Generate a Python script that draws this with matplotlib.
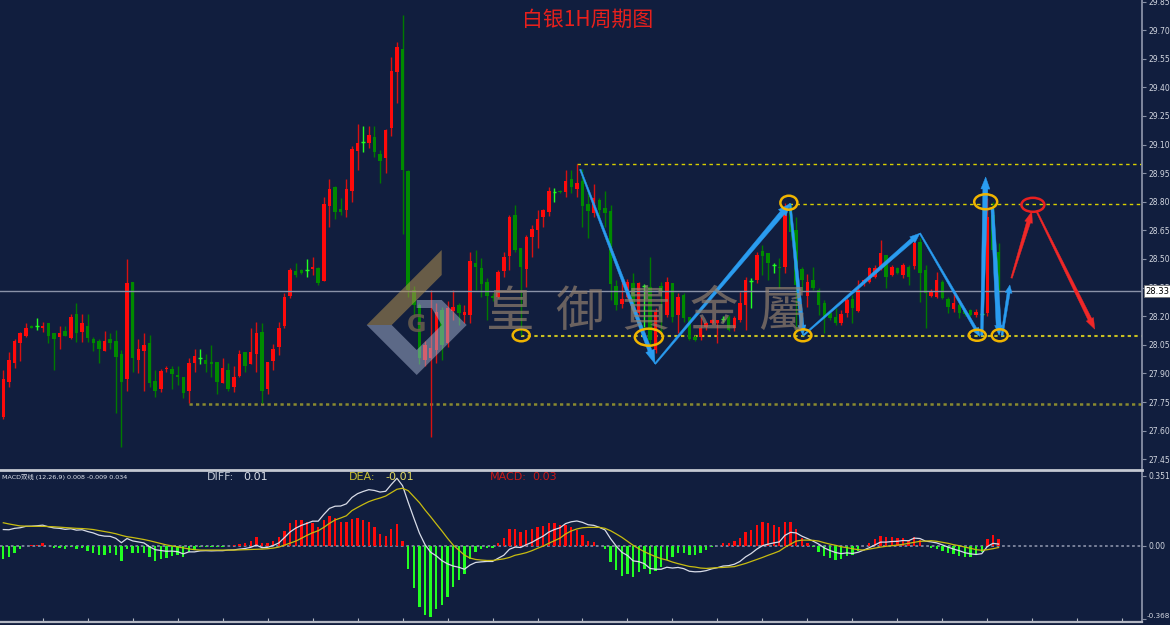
import numpy as np
import matplotlib
matplotlib.use("Agg")
import matplotlib.pyplot as plt
from matplotlib.patches import Polygon, Ellipse
from matplotlib.transforms import blended_transform_factory, ScaledTranslation

# ---------------- data ----------------
opens = [27.67, 27.857, 27.957, 28.058, 28.097, 28.149, 28.148, 28.14, 28.163, 28.11,
 28.09, 28.123, 28.088, 28.212, 28.119, 28.15, 28.081, 28.072, 28.02, 28.081,
 28.072, 28.002, 27.87, 28.378, 27.97, 28.02, 28.058, 27.862, 27.817, 27.922,
 27.922, 27.892, 27.88, 27.81, 27.957, 27.98, 27.97, 27.96, 27.958, 27.852,
 27.92, 27.83, 27.887, 28.011, 27.95, 28.002, 28.119, 27.817, 27.967, 28.04,
 28.15, 28.308, 28.439, 28.443, 28.441, 28.446, 28.452, 28.387, 28.78, 28.88,
 28.76, 28.757, 28.858, 29.067, 29.113, 29.107, 29.138, 29.051, 29.031, 29.189,
 29.479, 29.6, 28.962, 28.338, 28.259, 27.97, 27.98, 28.023, 28.233, 28.058,
 28.229, 28.259, 28.207, 28.207, 28.478, 28.451, 28.381, 28.308, 28.303, 28.439,
 28.516, 28.731, 28.556, 28.446, 28.617, 28.652, 28.719, 28.748, 28.85, 28.857,
 28.853, 28.918, 28.867, 28.911, 28.789, 28.74, 28.81, 28.769, 28.754, 28.36,
 28.264, 28.303, 28.373, 28.215, 28.36, 28.352, 28.023, 28.36, 28.207, 28.373,
 28.207, 28.312, 28.198, 28.093, 28.093, 28.145, 28.166, 28.166, 28.185, 28.198,
 28.137, 28.18, 28.259, 28.385, 28.39, 28.542, 28.53, 28.469, 28.46, 28.46,
 28.775, 28.652, 28.447, 28.308, 28.39, 28.338, 28.268, 28.215, 28.198, 28.166,
 28.215, 28.288, 28.229, 28.369, 28.381, 28.407, 28.46, 28.521, 28.416, 28.451,
 28.416, 28.46, 28.464, 28.591, 28.443, 28.306, 28.303, 28.378, 28.29, 28.236,
 28.259, 28.229, 28.233, 28.207, 28.212, 28.215, 28.731, 28.539]

highs = [27.92, 28.01, 28.081, 28.115, 28.163, 28.155, 28.19, 28.168, 28.165, 28.112,
 28.15, 28.15, 28.212, 28.271, 28.212, 28.212, 28.093, 28.08, 28.123, 28.11,
 28.128, 28.023, 28.5, 28.38, 28.08, 28.11, 28.102, 27.92, 27.924, 27.94,
 27.94, 27.94, 27.882, 27.98, 28.028, 28.028, 28.0, 28.05, 27.96, 27.98,
 27.953, 27.94, 28.023, 28.012, 28.14, 28.172, 28.163, 27.96, 28.054, 28.172,
 28.32, 28.452, 28.478, 28.45, 28.5, 28.513, 28.46, 28.827, 28.92, 28.882,
 28.818, 28.92, 29.093, 29.208, 29.195, 29.195, 29.195, 29.072, 29.18, 29.558,
 29.64, 29.78, 28.965, 28.36, 28.27, 28.07, 28.338, 28.268, 28.25, 28.28,
 28.338, 28.268, 28.259, 28.539, 28.547, 28.504, 28.399, 28.32, 28.443, 28.539,
 28.731, 28.784, 28.556, 28.626, 28.679, 28.757, 28.761, 28.88, 28.871, 28.86,
 28.967, 28.967, 28.997, 28.97, 28.862, 28.892, 28.818, 28.858, 28.783, 28.39,
 28.39, 28.394, 28.425, 28.381, 28.37, 28.512, 28.242, 28.381, 28.408, 28.373,
 28.32, 28.32, 28.198, 28.1, 28.198, 28.17, 28.185, 28.18, 28.2, 28.207,
 28.2, 28.329, 28.408, 28.402, 28.539, 28.574, 28.53, 28.478, 28.504, 28.792,
 28.784, 28.722, 28.46, 28.42, 28.46, 28.346, 28.285, 28.22, 28.242, 28.233,
 28.294, 28.31, 28.39, 28.395, 28.46, 28.47, 28.6, 28.521, 28.47, 28.46,
 28.478, 28.469, 28.6, 28.609, 28.469, 28.34, 28.43, 28.39, 28.303, 28.32,
 28.268, 28.24, 28.24, 28.24, 28.22, 28.82, 28.80, 28.582]

lows = [27.66, 27.83, 27.927, 27.967, 28.09, 28.138, 28.128, 28.119, 28.058, 27.92,
 28.027, 28.095, 28.079, 28.067, 28.067, 28.067, 28.02, 27.957, 28.018, 28.027,
 27.691, 27.516, 27.81, 27.91, 27.9, 27.81, 27.83, 27.778, 27.8, 27.91,
 27.817, 27.84, 27.77, 27.744, 27.91, 27.95, 27.91, 27.88, 27.79, 27.85,
 27.81, 27.8, 27.88, 27.91, 27.948, 27.91, 27.744, 27.79, 27.92, 27.998,
 28.137, 28.297, 28.408, 28.42, 28.408, 28.416, 28.364, 28.385, 28.67, 28.708,
 28.731, 28.719, 28.797, 28.967, 29.063, 29.08, 29.037, 28.897, 28.95, 29.147,
 29.317, 28.63, 28.30, 28.20, 27.95, 27.94, 27.569, 27.953, 27.97, 28.04,
 28.18, 28.154, 28.163, 28.163, 28.338, 28.303, 28.18, 28.28, 28.294, 28.408,
 28.443, 28.539, 28.102, 28.355, 28.512, 28.556, 28.67, 28.726, 28.797, 28.845,
 28.827, 28.845, 28.827, 28.67, 28.609, 28.719, 28.714, 28.67, 28.285, 28.233,
 28.242, 28.294, 28.224, 28.207, 28.145, 28.032, 28.006, 28.11, 28.198, 28.172,
 28.11, 28.172, 28.075, 28.07, 28.075, 28.13, 28.16, 28.058, 28.17, 28.12,
 28.12, 28.172, 28.128, 28.242, 28.373, 28.417, 28.39, 28.425, 28.346, 28.425,
 28.6, 28.111, 28.33, 28.25, 28.338, 28.207, 28.11, 28.18, 28.155, 28.155,
 28.198, 28.163, 28.224, 28.36, 28.375, 28.4, 28.443, 28.346, 28.41, 28.42,
 28.4, 28.364, 28.45, 28.277, 28.137, 28.3, 28.294, 28.29, 28.215, 28.224,
 28.189, 28.2, 28.2, 28.198, 28.205, 28.2, 28.54, 28.32]

closes = [27.87, 27.97, 28.072, 28.11, 28.137, 28.14, 28.148, 28.15, 28.097, 28.079,
 28.11, 28.097, 28.198, 28.11, 28.163, 28.088, 28.058, 28.027, 28.072, 28.058,
 27.988, 27.857, 28.373, 27.98, 28.028, 28.049, 27.852, 27.81, 27.913, 27.93,
 27.897, 27.883, 27.799, 27.953, 27.992, 27.98, 27.95, 27.95, 27.857, 27.93,
 27.817, 27.883, 28.002, 27.94, 28.011, 28.11, 27.81, 27.958, 28.028, 28.14,
 28.303, 28.443, 28.416, 28.429, 28.441, 28.46, 28.376, 28.789, 28.867, 28.748,
 28.748, 28.867, 29.077, 29.107, 29.113, 29.15, 29.06, 29.016, 29.177, 29.488,
 29.61, 28.967, 28.338, 28.26, 27.98, 28.05, 28.032, 28.224, 28.05, 28.242,
 28.25, 28.215, 28.224, 28.49, 28.46, 28.369, 28.306, 28.294, 28.434, 28.512,
 28.719, 28.547, 28.46, 28.614, 28.656, 28.71, 28.757, 28.859, 28.85, 28.85,
 28.909, 28.876, 28.9, 28.778, 28.749, 28.822, 28.757, 28.74, 28.369, 28.259,
 28.29, 28.381, 28.233, 28.376, 28.36, 28.075, 28.224, 28.33, 28.381, 28.198,
 28.303, 28.189, 28.079, 28.075, 28.137, 28.163, 28.18, 28.18, 28.185, 28.128,
 28.189, 28.268, 28.39, 28.385, 28.521, 28.516, 28.477, 28.469, 28.451, 28.766,
 28.644, 28.364, 28.39, 28.381, 28.346, 28.259, 28.198, 28.189, 28.163, 28.212,
 28.285, 28.241, 28.338, 28.39, 28.451, 28.451, 28.53, 28.408, 28.46, 28.428,
 28.469, 28.408, 28.586, 28.428, 28.32, 28.329, 28.39, 28.297, 28.247, 28.268,
 28.219, 28.212, 28.207, 28.22, 28.212, 28.722, 28.547, 28.329]

macd_hist = [-0.069, -0.059, -0.035, -0.018, -0.003, 0.002, 0.005, 0.012, -0.003, -0.013,
 -0.013, -0.018, -0.008, -0.018, -0.013, -0.027, -0.035, -0.047, -0.047, -0.038,
 -0.047, -0.075, -0.018, -0.035, -0.035, -0.035, -0.059, -0.075, -0.069, -0.064,
 -0.052, -0.047, -0.059, -0.03, -0.022, -0.008, -0.005, -0.008, -0.005, -0.005,
 0.0, 0.002, 0.008, 0.012, 0.023, 0.042, 0.015, 0.015, 0.025, 0.042,
 0.075, 0.112, 0.129, 0.129, 0.12, 0.115, 0.095, 0.129, 0.149, 0.137,
 0.12, 0.12, 0.132, 0.137, 0.129, 0.12, 0.092, 0.059, 0.048, 0.082,
 0.109, 0.025, -0.117, -0.214, -0.306, -0.348, -0.356, -0.319, -0.298, -0.256,
 -0.209, -0.172, -0.142, -0.069, -0.03, -0.017, -0.01, -0.01, 0.015, 0.037,
 0.082, 0.082, 0.067, 0.079, 0.084, 0.092, 0.099, 0.112, 0.112, 0.104,
 0.104, 0.092, 0.079, 0.054, 0.025, 0.02, 0.0, -0.017, -0.08, -0.122,
 -0.15, -0.142, -0.156, -0.13, -0.119, -0.142, -0.125, -0.105, -0.072, -0.059,
 -0.038, -0.035, -0.047, -0.047, -0.035, -0.022, -0.008, 0.0, 0.015, 0.015,
 0.025, 0.037, 0.067, 0.08, 0.105, 0.117, 0.112, 0.104, 0.092, 0.12,
 0.117, 0.082, 0.04, 0.015, -0.008, -0.03, -0.052, -0.064, -0.072, -0.069,
 -0.052, -0.047, -0.025, 0.0, 0.015, 0.032, 0.05, 0.042, 0.042, 0.037,
 0.037, 0.025, 0.042, 0.028, 0.0, -0.013, -0.017, -0.027, -0.038, -0.043,
 -0.05, -0.055, -0.055, -0.047, -0.033, 0.032, 0.054, 0.034]

dea = [0.115, 0.109, 0.104, 0.099, 0.098, 0.097, 0.097, 0.097, 0.096, 0.095,
 0.093, 0.091, 0.089, 0.087, 0.086, 0.084, 0.081, 0.076, 0.071, 0.066,
 0.06, 0.052, 0.045, 0.041, 0.036, 0.031, 0.025, 0.018, 0.011, 0.004,
 -0.001, -0.006, -0.011, -0.016, -0.02, -0.022, -0.022, -0.022, -0.022, -0.022,
 -0.022, -0.022, -0.021, -0.02, -0.019, -0.018, -0.017, -0.015, -0.012, -0.007,
 0.003, 0.013, 0.023, 0.037, 0.052, 0.065, 0.075, 0.092, 0.112, 0.129,
 0.139, 0.15, 0.176, 0.192, 0.207, 0.221, 0.231, 0.239, 0.249, 0.266,
 0.283, 0.288, 0.276, 0.246, 0.216, 0.179, 0.145, 0.109, 0.074, 0.037,
 0.003, -0.022, -0.047, -0.062, -0.069, -0.072, -0.074, -0.074, -0.07, -0.066,
 -0.059, -0.048, -0.042, -0.035, -0.025, -0.013, -0.002, 0.012, 0.025, 0.038,
 0.059, 0.074, 0.084, 0.09, 0.092, 0.092, 0.092, 0.087, 0.075, 0.059,
 0.042, 0.022, 0.002, -0.015, -0.03, -0.043, -0.055, -0.065, -0.072, -0.082,
 -0.09, -0.097, -0.104, -0.107, -0.112, -0.114, -0.112, -0.11, -0.109, -0.107,
 -0.105, -0.097, -0.089, -0.079, -0.069, -0.059, -0.048, -0.038, -0.027, -0.008,
 0.008, 0.023, 0.028, 0.028, 0.027, 0.023, 0.015, 0.008, 0.002, -0.005,
 -0.01, -0.015, -0.02, -0.022, -0.017, -0.012, -0.007, -0.003, 0.0, 0.003,
 0.007, 0.012, 0.017, 0.022, 0.023, 0.025, 0.022, 0.017, 0.012, 0.005,
 0.0, -0.007, -0.013, -0.02, -0.023, -0.02, -0.015, -0.009]

diff = [0.081, 0.080, 0.087, 0.090, 0.097, 0.098, 0.100, 0.103, 0.095, 0.089,
 0.087, 0.082, 0.085, 0.078, 0.080, 0.071, 0.064, 0.053, 0.048, 0.047,
 0.037, 0.015, 0.036, 0.024, 0.019, 0.014, -0.005, -0.020, -0.024, -0.028,
 -0.027, -0.030, -0.041, -0.031, -0.031, -0.026, -0.025, -0.026, -0.025, -0.025,
 -0.022, -0.021, -0.017, -0.014, -0.008, 0.003, -0.010, -0.008, 0.001, 0.014,
 0.041, 0.069, 0.088, 0.102, 0.112, 0.123, 0.123, 0.157, 0.187, 0.198,
 0.199, 0.210, 0.242, 0.261, 0.272, 0.281, 0.277, 0.269, 0.273, 0.307,
 0.338, 0.301, 0.218, 0.139, 0.063, 0.005, -0.033, -0.051, -0.075, -0.091,
 -0.102, -0.108, -0.118, -0.097, -0.084, -0.081, -0.079, -0.079, -0.063, -0.048,
 -0.018, -0.007, -0.009, 0.005, 0.017, 0.033, 0.048, 0.068, 0.081, 0.090,
 0.111, 0.120, 0.124, 0.117, 0.105, 0.102, 0.092, 0.079, 0.035, -0.002,
 -0.033, -0.049, -0.076, -0.080, -0.090, -0.114, -0.118, -0.118, -0.108, -0.112,
 -0.109, -0.115, -0.128, -0.131, -0.130, -0.125, -0.116, -0.110, -0.102, -0.100,
 -0.093, -0.079, -0.056, -0.039, -0.017, 0.000, 0.008, 0.014, 0.019, 0.052,
 0.067, 0.064, 0.048, 0.036, 0.023, 0.008, -0.011, -0.024, -0.034, -0.040,
 -0.036, -0.039, -0.033, -0.022, -0.010, 0.004, 0.018, 0.018, 0.021, 0.022,
 0.026, 0.025, 0.038, 0.036, 0.023, 0.019, 0.014, 0.004, -0.007, -0.017,
 -0.025, -0.035, -0.041, -0.044, -0.040, -0.004, 0.012, 0.008]

price_ticks = [27.45, 27.60, 27.75, 27.90, 28.05, 28.20, 28.35, 28.50, 28.65,
               28.80, 28.95, 29.10, 29.25, 29.40, 29.55, 29.70, 29.85]
macd_ticks = [0.351, 0.0, -0.368]
macd_tick_labels = ['0.351', '0.00', '-0.368']
last_price = 28.33

# support/resistance dotted lines: (start bar, price)
level_start = [102.0, 139.8, 92.1, 33.0]
level_price = [28.997, 28.79, 28.098, 27.74]

# wave arrows (bar, price) -> (bar, price)
blue_x0 = [102.6, 115.9, 139.9, 142.3, 163.0, 174.0, 175.9, 177.6]
blue_y0 = [28.97, 27.95, 28.79, 28.10, 28.635, 28.10, 28.765, 28.10]
blue_x1 = [115.9, 139.9, 142.2, 163.0, 173.7, 174.7, 177.1, 179.0]
blue_y1 = [27.95, 28.79, 28.10, 28.635, 28.093, 28.93, 28.10, 28.364]
red_x0 = [179.3, 183.8]
red_y0 = [28.40, 28.748]
red_x1 = [182.9, 194.1]
red_y1 = [28.748, 28.132]

# marked turning points (bar, price)
ring_x = [92.1, 114.8, 139.7, 142.2, 173.2, 174.7, 177.2]
ring_y = [28.10, 28.09, 28.795, 28.10, 28.10, 28.80, 28.10]
red_ring_x = [183.1]
red_ring_y = [28.784]

# ---------------- figure ----------------
BG = '#111e3e'
W, H = 1170, 625
fig = plt.figure(figsize=(W / 100, H / 100), dpi=100, facecolor=BG)
ax = fig.add_axes([0, 157 / H, 1142 / W, 468 / H], facecolor=BG)
ax2 = fig.add_axes([0, 3 / H, 1142 / W, 152 / H], facecolor=BG)

XLIM = (-0.59, 202.5)
YLIM = (27.404, 29.858)
ax.set_xlim(*XLIM)
ax.set_ylim(*YLIM)
ax2.set_xlim(*XLIM)
ax2.set_ylim(-0.3826, 0.3796)

AXC = '#8890a6'
for a in (ax, ax2):
    for s in ('left', 'top', 'bottom'):
        a.spines[s].set_visible(False)
    a.spines['right'].set_color(AXC)
    a.spines['right'].set_linewidth(1.3)
    a.yaxis.tick_right()
    a.tick_params(axis='y', colors=AXC, labelcolor='#d2d6e0', labelsize=5.5,
                  length=3, width=0.8, pad=2)
ax2.tick_params(axis='y', pad=1.5)
ax2.spines['top'].set_visible(True)
ax2.spines['top'].set_color('#c4c8d2')
ax2.spines['top'].set_linewidth(2)
ax2.spines['bottom'].set_visible(True)
ax2.spines['bottom'].set_color('#b4b8c4')
ax2.spines['bottom'].set_linewidth(1.6)

ax.set_yticks(price_ticks)
ax.set_yticklabels([f'{v:.2f}' for v in price_ticks])
ax.set_xticks([])
ax2.set_yticks(macd_ticks)
ax2.set_yticklabels(macd_tick_labels)
ax2.set_xticks(np.arange(7, 200, 8))
ax2.tick_params(axis='x', direction='in', length=3, color='#b4b8c4',
                labelbottom=False)
# keep the lowest MACD label inside the picture
lowlab = ax2.get_yticklabels()[-1]
lowlab.set_fontsize(5.2)
lowlab.set_transform(lowlab.get_transform() + ScaledTranslation(-1.5 / 72, 2.5 / 72, fig.dpi_scale_trans))

# ---------------- candles ----------------
o = np.array(opens); h = np.array(highs); l = np.array(lows); c = np.array(closes)
idx = np.arange(len(c))
up = c > o
dn = c < o
dj = c == o
RED, GRN, DOJ = '#ff0a0a', '#008a00', '#22ff22'
body_col = np.where(up, RED, np.where(dn, GRN, DOJ))
wick_col = np.where(up, '#d81010', np.where(dn, '#007a00', DOJ))

# levels
for xs, yp in zip(level_start, level_price):
    if yp > 28.5:
        ax.hlines(yp, xs, XLIM[1], colors='#d8d000', lw=1.0, linestyles=(0, (2.5, 2.5)), zorder=1)
    elif yp > 28.0:
        ax.hlines(yp, xs, XLIM[1], colors='#c8c020', lw=1.5, linestyles=(0, (1.6, 1.6)), zorder=1)
    else:
        ax.hlines(yp, xs, XLIM[1], colors='#8a8a30', lw=1.8, linestyles=(0, (1.3, 1.3)), zorder=1)

ax.vlines(idx, l, h, colors=wick_col, lw=1.0, zorder=2)
nb = ~dj
ax.bar(idx[nb], np.maximum(np.abs(c - o), 0.004)[nb], bottom=np.minimum(o, c)[nb],
       width=0.62, color=body_col[nb], linewidth=0, zorder=3)
ax.hlines(c[dj], idx[dj] - 0.33, idx[dj] + 0.33, colors=DOJ, lw=1.0, zorder=3)

ax.axhline(last_price, color='#8a92a8', lw=1.0, zorder=4)
bt = blended_transform_factory(ax.transAxes, ax.transData)
ax.text(1.0 + 3 / 1142, last_price, f'{last_price:.2f}', transform=bt, ha='left', va='center',
        fontsize=6, color='#000000', zorder=10,
        bbox=dict(boxstyle='square,pad=0.18', fc='white', ec='#707070', lw=0.5))

# ---------------- watermark ----------------
def fx(x):
    return x / W

def fy(y):
    return 1 - y / H

gray_pts = [(366.7, 325), (416.7, 375), (466.7, 325), (441.7, 300), (416.7, 300),
            (416.7, 308), (431.7, 308), (441.7, 325), (416.7, 350), (391.7, 325)]
gold_pts = [(366.7, 325), (441.7, 250), (441.7, 275), (391.7, 325)]
fig.add_artist(Polygon([(fx(x), fy(y)) for x, y in gray_pts], closed=True,
                       transform=fig.transFigure, fc='#a8b4d0', ec='none', alpha=0.5, zorder=5))
fig.add_artist(Polygon([(fx(x), fy(y)) for x, y in gold_pts], closed=True,
                       transform=fig.transFigure, fc='#b09050', ec='none', alpha=0.55, zorder=5))
fig.text(fx(417), fy(325), 'G', ha='center', va='center', fontsize=17, fontweight='bold',
         color='#6a5e4e', alpha=0.85, zorder=5)
for ch, xc in zip('皇御貴金屬', [510, 580, 646, 714, 782]):
    fig.text(fx(xc), fy(312), ch, ha='center', va='center', fontsize=35,
             color='#958270', alpha=0.68, zorder=5,
             family=['Noto Sans CJK TC', 'DejaVu Sans'])

# ---------------- arrows and rings ----------------
def taper_arrow(a, x0, y0, x1, y1, color, w0, w1, hw, hl):
    T = a.transData
    p0 = T.transform((x0, y0)); p1 = T.transform((x1, y1))
    d = p1 - p0
    u = d / np.hypot(*d)
    n = np.array([-u[1], u[0]])
    b = p1 - u * hl
    pts = [p0 + n * w0 / 2, b + n * w1 / 2, b + n * hw / 2, p1,
           b - n * hw / 2, b - n * w1 / 2, p0 - n * w0 / 2]
    pts = T.inverted().transform(np.array(pts))
    a.add_patch(Polygon(pts, closed=True, fc=color, ec=color, lw=0.3, zorder=7, clip_on=False))

BLUE = '#2a9cf0'
blue_style = [(1.5, 4, 9, 14), (1.5, 5, 10, 12), (2, 4, 8, 10), (1.5, 4, 8, 10),
              (1.5, 3, 7, 9), (2.5, 5, 9, 12), (3, 5, 8, 10), (2, 3, 7, 8)]
for (x0, y0, x1, y1), st in zip(zip(blue_x0, blue_y0, blue_x1, blue_y1), blue_style):
    taper_arrow(ax, x0, y0, x1, y1, BLUE, *st)
for x0, y0, x1, y1 in zip(red_x0, red_y0, red_x1, red_y1):
    taper_arrow(ax, x0, y0, x1, y1, '#f02828', 1.5, 4, 8, 11)

sx = 1142 / (XLIM[1] - XLIM[0])
sy = 468 / (YLIM[1] - YLIM[0])
ring_size = [(17, 12), (28, 17), (17, 14), (17, 12), (17, 11), (23, 15), (16, 12)]
for xr, yr, (wp, hp) in zip(ring_x, ring_y, ring_size):
    ax.add_patch(Ellipse((xr, yr), wp / sx, hp / sy, fc='none', ec='#f0b400', lw=1.8, zorder=8))
for xr, yr in zip(red_ring_x, red_ring_y):
    ax.add_patch(Ellipse((xr, yr), 23 / sx, 14 / sy, fc='none', ec='#e82020', lw=1.8, zorder=8))

fig.text(fx(588), fy(20), '白银1H周期图', ha='center', va='center', fontsize=15,
         color='#e8201c', family=['Noto Sans CJK SC', 'DejaVu Sans'])

# ---------------- MACD ----------------
mh = np.array(macd_hist)
ax2.axhline(0, color='#8088a0', lw=1.3, linestyle=(0, (1.5, 1.5)), zorder=1)
ax2.bar(idx, mh, width=0.42, color=np.where(mh >= 0, '#ff0a0a', '#22ff22'), linewidth=0, zorder=2)
ax2.plot(idx, diff, color='#d8dce8', lw=0.9, zorder=3)
ax2.plot(idx, dea, color='#c8bc10', lw=0.9, zorder=3)

fig.text(fx(2), fy(477), f'MACD双线 (12,26,9) {diff[-1]:.3f} {dea[-1]:.3f} {macd_hist[-1]:.3f}',
         ha='left', va='center', fontsize=4.6, color='#e0e4ee',
         family=['DejaVu Sans', 'Noto Sans CJK SC'])
fig.text(fx(207), fy(477), 'DIFF:', ha='left', va='center', fontsize=8, color='#c0c6d4')
fig.text(fx(243), fy(477), f'{diff[-1]:.2f}', ha='left', va='center', fontsize=8, color='#d8dce6')
fig.text(fx(349), fy(477), 'DEA:', ha='left', va='center', fontsize=8, color='#c8c030')
fig.text(fx(385), fy(477), f'{dea[-1]:.2f}', ha='left', va='center', fontsize=8, color='#e0d860')
fig.text(fx(490), fy(477), 'MACD:', ha='left', va='center', fontsize=8, color='#c81818')
fig.text(fx(532), fy(477), f'{macd_hist[-1]:.2f}', ha='left', va='center', fontsize=8, color='#c81818')

fig.savefig('out.png', dpi=100, facecolor=BG)
